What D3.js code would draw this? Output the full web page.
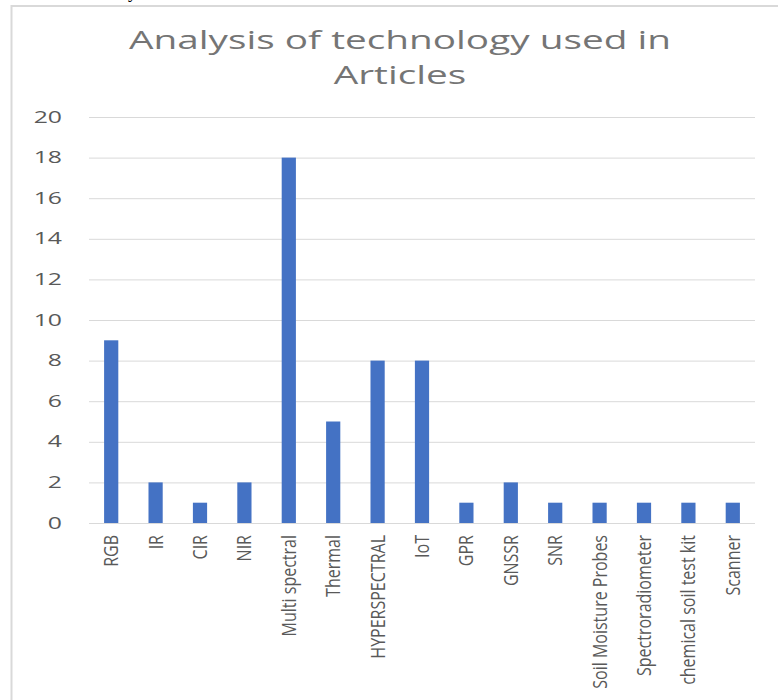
<!DOCTYPE html>
<html>
<head>
<meta charset="utf-8">
<script src="https://cdnjs.cloudflare.com/ajax/libs/d3/7.8.5/d3.min.js"></script>
<style>
  body { margin: 0; background: #fff; }
  svg { display: block; }
  .grid line { stroke: #d9d9d9; stroke-width: 1; }
  .grid path { display: none; }
  .ylab text { font-family: "Open Sans", sans-serif; font-size: 16px; fill: #595959; }
  .xlab text { font-family: "Open Sans", sans-serif; font-size: 16px; fill: #595959; }
  .title { font-family: "Open Sans", sans-serif; font-size: 25px; fill: #757575; }
</style>
</head>
<body>
<script>
  var categories = ["RGB", "IR", "CIR", "NIR", "Multi spectral", "Thermal", "HYPERSPECTRAL",
    "IoT", "GPR", "GNSSR", "SNR", "Soil Moisture Probes", "Spectroradiometer",
    "chemical soil test kit", "Scanner"]
  var counts = [9, 2, 1, 2, 18, 5, 8, 8, 1, 2, 1, 1, 1, 1, 1]
  var yTicks = [0, 2, 4, 6, 8, 10, 12, 14, 16, 18, 20]
  var titleLines = ["Analysis of technology used in", "Articles"]

  var width = 778, height = 700
  var plotLeft = 89, plotRight = 755, plotTop = 117, plotBottom = 523
  var sx = 1.55   // the picture is stretched sideways

  var svg = d3.select("body").append("svg")
    .attr("width", width)
    .attr("height", height)

  // frame of the chart, cut off at right and bottom
  svg.append("rect")
    .attr("x", 11.5).attr("y", 6)
    .attr("width", 820).attr("height", 720)
    .attr("fill", "none")
    .attr("stroke", "#d9d9d9")
    .attr("stroke-width", 2)

  // bit of the page text above the chart
  svg.append("text")
    .attr("x", 128).attr("y", -2)
    .attr("font-family", "Liberation Serif, serif")
    .attr("font-size", 18)
    .text("y")

  var x = d3.scaleBand()
    .domain(categories)
    .range([plotLeft, plotRight])
    .paddingInner(0.68)
    .paddingOuter(0.34)

  var y = d3.scaleLinear()
    .domain([0, 20])
    .range([plotBottom, plotTop])

  // gridlines
  svg.append("g")
    .attr("class", "grid")
    .attr("transform", "translate(" + plotLeft + ",0)")
    .call(d3.axisLeft(y).tickValues(yTicks).tickSize(-(plotRight - plotLeft)).tickFormat(""))

  // y labels
  svg.append("g")
    .attr("class", "ylab")
    .selectAll("text")
    .data(yTicks)
    .enter()
    .append("text")
    .attr("text-anchor", "end")
    .attr("dy", "0.35em")
    .attr("transform", function(d) { return "translate(62," + y(d) + ") scale(" + sx + ",1)" })
    .text(function(d) { return d })

  // bars
  svg.append("g")
    .selectAll("rect")
    .data(counts)
    .enter()
    .append("rect")
    .attr("x", function(d, i) { return x(categories[i]) })
    .attr("y", function(d) { return y(d) })
    .attr("width", x.bandwidth())
    .attr("height", function(d) { return y(0) - y(d) })
    .attr("fill", "#4472c4")

  // x labels, glyphs a bit thicker like in the picture
  svg.append("g")
    .attr("class", "xlab")
    .selectAll("text")
    .data(categories)
    .enter()
    .append("text")
    .attr("text-anchor", "end")
    .attr("dy", "0.35em")
    .attr("transform", function(d) {
      return "translate(" + (x(d) + x.bandwidth() / 2) + ",535) rotate(-90) scale(1,1.25)"
    })
    .text(function(d) { return d })

  // title
  svg.append("g")
    .selectAll("text")
    .data(titleLines)
    .enter()
    .append("text")
    .attr("class", "title")
    .attr("text-anchor", "middle")
    .attr("transform", function(d, i) { return "translate(400," + (49 + i * 35) + ") scale(" + sx + ",1)" })
    .text(function(d) { return d })
</script>
</body>
</html>
